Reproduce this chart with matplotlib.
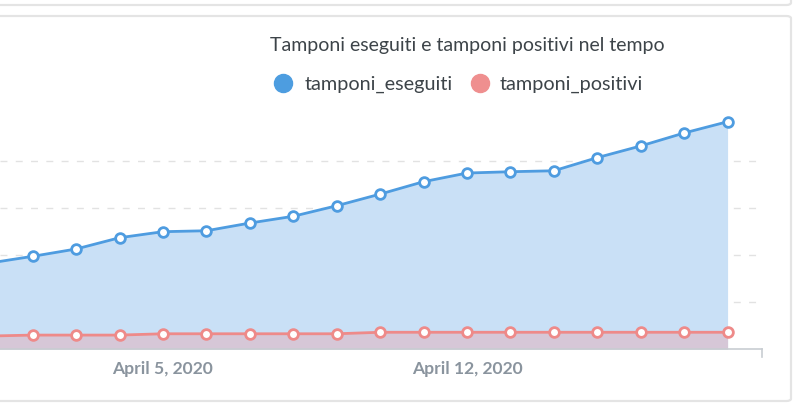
import numpy as np
import pandas as pd
import matplotlib
matplotlib.use("Agg")
import matplotlib.pyplot as plt
import matplotlib.dates as mdates
from matplotlib.patches import FancyBboxPatch
from matplotlib.lines import Line2D

plt.rcParams['font.family'] = ['Lato', 'DejaVu Sans']

# data (cumulative counts)
days = pd.date_range("2020-04-01", "2020-04-18", freq="D")
tamponi_eseguiti = [457000, 493000, 532000, 592000, 624000, 629000, 670000, 706000, 762000,
                    824000, 890000, 936000, 943000, 948000, 1018000, 1080000, 1149000, 1209000]
tamponi_positivi = [69000, 74000, 74000, 74000, 81000, 81000, 81000, 81000, 81000,
                    89000, 89000, 89000, 89000, 89000, 89000, 89000, 89000, 89000]
tick_days = pd.to_datetime(["2020-04-05", "2020-04-12"])
title = "Tamponi eseguiti e tamponi positivi nel tempo"
series_names = ["tamponi_eseguiti", "tamponi_positivi"]
grid_vals = [250000, 500000, 750000, 1000000]

W, H = 800, 406
fig = plt.figure(figsize=(W/100, H/100), dpi=100)
fig.patch.set_facecolor("white")

def fx(px): return px / W
def fy(py): return 1 - py / H

# cards (the one above is cut off)
for (x0, y0, x1, y1) in [(-20, -40, 791, 6), (-20, 17, 791, 402)]:
    card = FancyBboxPatch((fx(x0), fy(y1)), fx(x1 - x0), (y1 - y0) / H,
                          boxstyle="round,pad=0,rounding_size=0.006",
                          transform=fig.transFigure, facecolor="white",
                          edgecolor="#e4e4e4", linewidth=1.6, zorder=0)
    fig.add_artist(card)

ax = fig.add_axes([0, fy(350), fx(762), 250 / H])
ax.set_facecolor("none")

blue, blue_fill = "#4e9ce0", "#c9e0f6"
red, red_fill = "#ee8a89", "#d6c7d7"

ax.fill_between(days, tamponi_eseguiti, color=blue_fill, lw=0, zorder=1)
ax.fill_between(days, tamponi_positivi, color=red_fill, lw=0, zorder=2)
ax.plot(days, tamponi_eseguiti, color=blue, lw=2, marker="o", ms=7,
        mfc="white", mec=blue, mew=2, zorder=4, clip_on=False)
ax.plot(days, tamponi_positivi, color=red, lw=2, marker="o", ms=7,
        mfc="white", mec=red, mew=2, zorder=4, clip_on=False)

for g in grid_vals:
    ax.axhline(g, color="#e2e2e2", lw=1, dashes=(5, 6), zorder=0)

x_left = mdates.date2num(pd.Timestamp("2020-04-05")) - 163 / 43.43
x_right = mdates.date2num(pd.Timestamp("2020-04-05")) + 599 / 43.43
ax.set_xlim(x_left, x_right)
ax.set_ylim(0, 250 / 47 * 250000)

for s in ["top", "left", "right"]:
    ax.spines[s].set_visible(False)
ax.spines["bottom"].set_color("#c8cdd2")
ax.spines["bottom"].set_linewidth(1.2)
ax.plot([1, 1], [0, -0.03], transform=ax.transAxes, color="#c8cdd2", lw=1.2, clip_on=False)

ax.set_yticks([])
ax.set_xticks(tick_days)
ax.set_xticklabels([d.strftime("%B ") + str(d.day) + d.strftime(", %Y") for d in tick_days],
                   fontsize=12.6, fontweight="bold", color="#8a949e")
ax.tick_params(axis="x", length=0, pad=8)

fig.text(fx(467), fy(46), title, ha="center", va="center", fontsize=14, color="#3d4449")
for cx, tx, col, name in [(283, 305, "#4d9de0", series_names[0]),
                          (480, 500, "#ef8f8f", series_names[1])]:
    fig.add_artist(Line2D([fx(cx)], [fy(84)], marker="o", ms=13, color=col, lw=0,
                          transform=fig.transFigure))
    fig.text(fx(tx), fy(84), name, ha="left", va="center", fontsize=14.3, color="#3d4449")

fig.savefig("out.png", dpi=100)
